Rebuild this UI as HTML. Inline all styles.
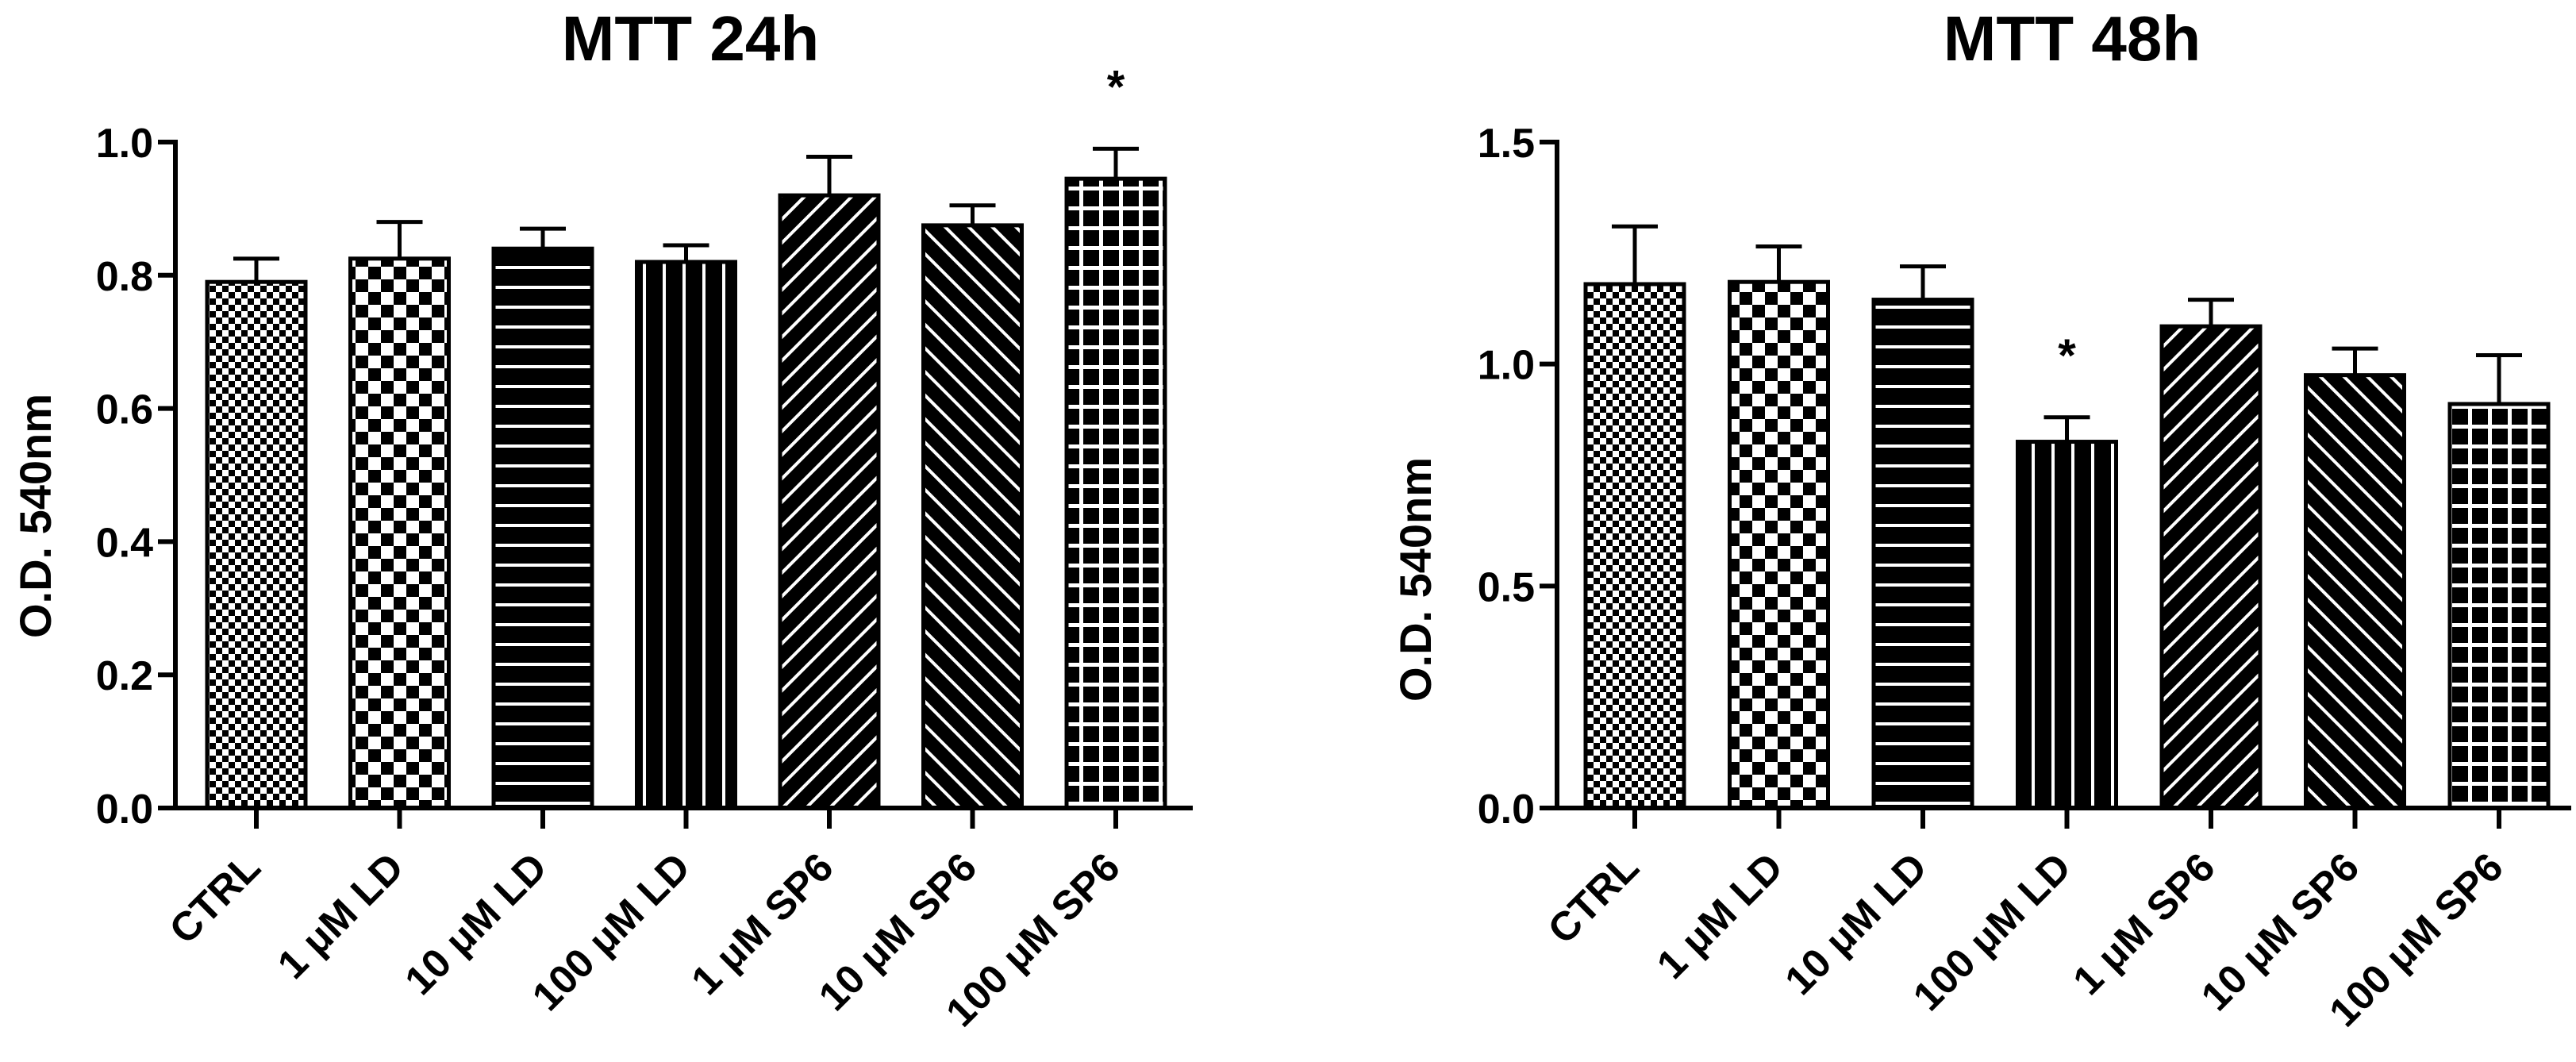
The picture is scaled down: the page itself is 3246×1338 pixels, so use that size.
<!DOCTYPE html>
<html><head><meta charset="utf-8"><style>
html,body{margin:0;padding:0;background:#fff;overflow:hidden}
svg{display:block}
text{font-family:"Liberation Sans",Arial,sans-serif;font-weight:bold;fill:#000}
</style></head><body>
<svg id="s" width="3246" height="1338" viewBox="0 0 3246 1338" xmlns="http://www.w3.org/2000/svg">
<defs>
<pattern id="p0" patternUnits="userSpaceOnUse" width="16" height="16"><rect width="16" height="16" fill="#fff"/><rect width="8" height="8" fill="#000"/><rect x="8" y="8" width="8" height="8" fill="#000"/></pattern>
<pattern id="p1" patternUnits="userSpaceOnUse" width="32" height="32"><rect width="32" height="32" fill="#fff"/><rect width="16" height="16" fill="#000"/><rect x="16" y="16" width="16" height="16" fill="#000"/></pattern>
<pattern id="p2" patternUnits="userSpaceOnUse" width="25" height="25"><rect width="25" height="25" fill="#000"/><rect y="10" width="25" height="4" fill="#fff"/></pattern>
<pattern id="p3" patternUnits="userSpaceOnUse" width="25" height="25"><rect width="25" height="25" fill="#000"/><rect x="10" width="4" height="25" fill="#fff"/></pattern>
<pattern id="p4" patternUnits="userSpaceOnUse" width="21" height="21" patternTransform="rotate(45)"><rect width="21" height="21" fill="#000"/><rect x="8" width="4" height="21" fill="#fff"/></pattern>
<pattern id="p5" patternUnits="userSpaceOnUse" width="21" height="21" patternTransform="rotate(-45)"><rect width="21" height="21" fill="#000"/><rect x="8" width="4" height="21" fill="#fff"/></pattern>
<pattern id="p6" patternUnits="userSpaceOnUse" width="25" height="25"><rect width="25" height="25" fill="#000"/><rect y="10" width="25" height="5" fill="#fff"/><rect x="10" width="5" height="25" fill="#fff"/></pattern>
</defs>
</svg>
<script>
const categories = ["CTRL","1  \u03bcM LD","10  \u03bcM LD","100  \u03bcM LD","1 \u03bcM SP6","10 \u03bcM SP6","100 \u03bcM SP6"];
const values24 = [0.79,0.825,0.84,0.82,0.92,0.875,0.945];
const errors24 = [0.035,0.055,0.03,0.025,0.058,0.03,0.045];
const sig24 = [false,false,false,false,false,false,true];
const ticks24 = [0.0,0.2,0.4,0.6,0.8,1.0];
const values48 = [1.18,1.185,1.145,0.825,1.085,0.975,0.91];
const errors48 = [0.13,0.08,0.075,0.055,0.06,0.06,0.11];
const sig48 = [false,false,false,true,false,false,false];
const ticks48 = [0.0,0.5,1.0,1.5];

const svg = document.getElementById('s');
const NS = 'http://www.w3.org/2000/svg';
function mk(tag, attrs, parent){const e=document.createElementNS(NS,tag);for(const k in attrs)e.setAttribute(k,attrs[k]);(parent||svg).appendChild(e);return e;}

function chart(o){
  const g = mk('g',{});
  
  
  const y = v => o.y0 - v / o.max * (o.y0 - o.yTop);
  const x = i => o.x0 + i * o.step;
  const t = mk('text',{x:o.titleX,y:76,'font-size':80,'text-anchor':'middle'},g); t.textContent=o.title;
  
  
  const yt = mk('text',{transform:`translate(${o.ylabX},${o.ylabY}) rotate(-90)`,'font-size':56,'text-anchor':'middle'},g); yt.textContent='O.D. 540nm';
  
  
  o.vals.forEach((v,i)=>{
    const cx=x(i), w=124, top=y(v), et=y(v+o.errs[i]);
    const eb=mk('line',{x1:cx,x2:cx,y1:top,y2:et,stroke:'#000','stroke-width':5},g);
    
    
    const ec=mk('line',{x1:cx-29,x2:cx+29,y1:et,y2:et,stroke:'#000','stroke-width':5},g);
    
    
    const b=mk('rect',{x:cx-w/2,y:top,width:w,height:o.y0-top,fill:`url(#p${i})`,stroke:'#000','stroke-width':5},g);
    
    
    if(o.sig[i]){const s=mk('text',{x:cx,y:et-58,'font-size':58,'text-anchor':'middle'},g);s.textContent='*';
      
      }
    const tk=mk('line',{x1:cx,x2:cx,y1:o.y0,y2:o.y0+26,stroke:'#000','stroke-width':6},g);
    
    
    const lb=mk('text',{transform:`translate(${cx+8},${o.y0+78}) rotate(-45)`,'font-size':51,'text-anchor':'end'},g);
    lb.textContent=categories[i];
    
    
  });
  o.ticks.forEach(v=>{
    const tk=mk('line',{x1:o.axX-22,x2:o.axX,y1:y(v),y2:y(v),stroke:'#000','stroke-width':6},g);
    
    
    const tl=mk('text',{x:o.axX-28,y:y(v)+19,'font-size':52,'text-anchor':'end'},g);
    tl.textContent=v.toFixed(1);
    
    
  });
  const ya=mk('line',{x1:o.axX,x2:o.axX,y1:o.yTop-3,y2:o.y0+3,stroke:'#000','stroke-width':6},g);
  
  
  const xa=mk('line',{x1:o.axX-3,x2:o.axEnd,y1:o.y0,y2:o.y0,stroke:'#000','stroke-width':6},g);
  
  
}
chart({name:'chart-24h',title:'MTT 24h',titleX:870,vals:values24,errs:errors24,sig:sig24,ticks:ticks24,max:1.0,
  x0:323,step:180.5,y0:1018,yTop:179,axX:221,axEnd:1503,ylabX:64,ylabY:650});
chart({name:'chart-48h',title:'MTT 48h',titleX:2611,vals:values48,errs:errors48,sig:sig48,ticks:ticks48,max:1.5,
  x0:2060,step:181.5,y0:1018,yTop:179,axX:1962,axEnd:3240,ylabX:1803,ylabY:730});
</script>
</body></html>
